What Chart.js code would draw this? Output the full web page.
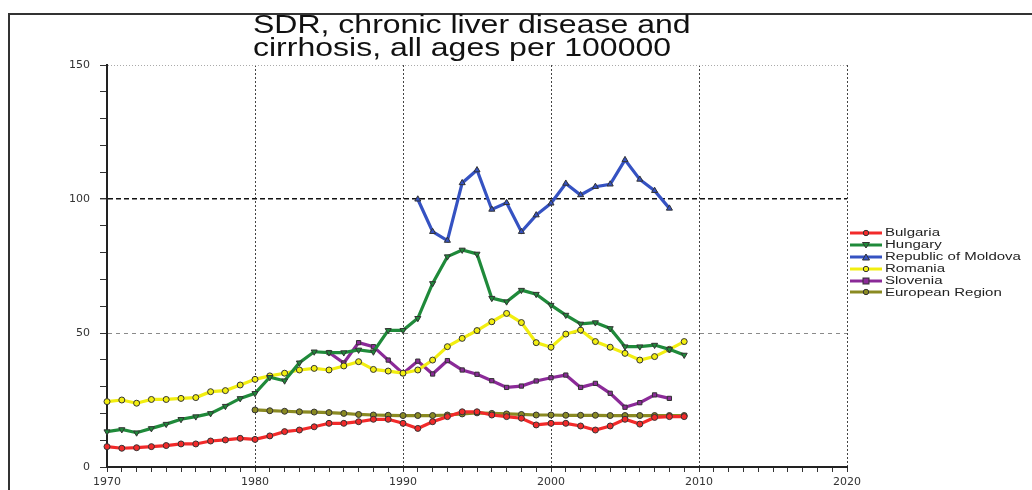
<!DOCTYPE html>
<html>
<head>
<meta charset="utf-8">
<script src="https://cdn.jsdelivr.net/npm/chart.js@4"></script>
<style>
  body { margin: 0; background: #fff; }
  #wrap { position: relative; width: 1032px; height: 490px; overflow: hidden; }
  #chart { position: absolute; left: 0; top: 0; }
  #frame { position: absolute; left: 8px; top: 13px; width: 1100px; height: 600px;
           border-left: 2px solid #333; border-top: 2px solid #333; }
  #title { position: absolute; left: 253px; top: 13px; font: 25px "Liberation Sans", Arial, sans-serif;
           line-height: 23px; color: #111; white-space: nowrap; transform: scaleX(1.28); transform-origin: 0 0; }
  #legend { position: absolute; left: 850px; top: 227px; font: 10px "Liberation Sans", Arial, sans-serif; color: #222; }
  .row { height: 11.9px; display: flex; align-items: center; white-space: nowrap; }
  .row svg { width: 32px; height: 10px; flex: none; }
  .row span { display: inline-block; margin-left: 3px; transform: scaleX(1.5); transform-origin: 0 50%; }
</style>
</head>
<body>
<div id="wrap">
  <div id="frame"></div>
  <canvas id="chart" width="1032" height="490"></canvas>
  <div id="title">SDR, chronic liver disease and<br>cirrhosis, all ages per 100000</div>
  <div id="legend"></div>
</div>
<script>
// years 1970..2009, null where a country has no data
const years = [1970, 1971, 1972, 1973, 1974, 1975, 1976, 1977, 1978, 1979,
               1980, 1981, 1982, 1983, 1984, 1985, 1986, 1987, 1988, 1989,
               1990, 1991, 1992, 1993, 1994, 1995, 1996, 1997, 1998, 1999,
               2000, 2001, 2002, 2003, 2004, 2005, 2006, 2007, 2008, 2009];

const bulgaria = [7.6, 7.0, 7.2, 7.6, 8.0, 8.6, 8.6, 9.7, 10.1, 10.7,
                  10.3, 11.6, 13.2, 13.8, 15.0, 16.3, 16.3, 16.9, 17.8, 17.8,
                  16.3, 14.4, 16.9, 18.8, 20.6, 20.6, 19.4, 18.8, 18.2, 15.7,
                  16.3, 16.3, 15.3, 13.8, 15.3, 17.8, 16.0, 18.5, 18.8, 18.8];

const hungary = [13.2, 14.0, 12.8, 14.4, 16.0, 17.8, 18.8, 20.0, 22.7, 25.6,
                 27.5, 33.5, 32.2, 38.9, 43.0, 42.7, 42.7, 43.7, 43.0, 51.0,
                 51.0, 55.5, 68.5, 78.5, 81.0, 79.5, 63.0, 61.7, 66.0, 64.5,
                 60.4, 56.7, 53.4, 53.9, 51.7, 44.9, 44.9, 45.5, 43.9, 41.8];

const moldova = [null, null, null, null, null, null, null, null, null, null,
                 null, null, null, null, null, null, null, null, null, null,
                 null, 99.9, 87.8, 84.5, 106.0, 110.8, 96.1, 98.6, 87.8, 94.0,
                 98.4, 105.8, 101.5, 104.6, 105.5, 114.6, 107.3, 103.1, 96.5, null];

const romania = [24.4, 25.0, 23.8, 25.2, 25.2, 25.6, 25.9, 28.1, 28.5, 30.6,
                 32.7, 34.0, 35.0, 36.2, 36.8, 36.2, 37.7, 39.3, 36.4, 35.8,
                 35.0, 36.2, 39.9, 44.9, 48.0, 50.9, 54.2, 57.3, 53.9, 46.4,
                 44.7, 49.6, 51.1, 46.8, 44.7, 42.4, 39.9, 41.2, 43.9, 46.8];

const slovenia = [null, null, null, null, null, null, null, null, null, null,
                  null, null, null, null, null, 42.7, 38.8, 46.4, 44.9, 39.9,
                  34.9, 39.5, 34.7, 39.7, 36.2, 34.6, 32.2, 29.7, 30.2, 32.1,
                  33.3, 34.3, 29.7, 31.2, 27.5, 22.3, 24.0, 26.9, 25.6, null];

const europe = [null, null, null, null, null, null, null, null, null, null,
                21.3, 21.0, 20.8, 20.6, 20.5, 20.3, 20.0, 19.6, 19.4, 19.3,
                19.2, 19.2, 19.2, 19.4, 19.8, 20.2, 20.0, 19.8, 19.6, 19.4,
                19.4, 19.3, 19.3, 19.3, 19.2, 19.2, 19.2, 19.2, 19.2, 19.2];

const seriesNames = ["Bulgaria", "Hungary", "Republic of Moldova", "Romania", "Slovenia", "European Region"];
const seriesValues = [bulgaria, hungary, moldova, romania, slovenia, europe];
const seriesColors = ["#f22a2a", "#1f8a3a", "#3552c2", "#f2ee10", "#8b2a98", "#8a8a22"];
const seriesMarkers = ["circle", "triangle", "triangle", "circle", "rect", "circle"];
const markerRotation = [0, 180, 0, 0, 0, 0];

const yTickLabels = [0, 50, 100, 150];
const xTickLabels = [1970, 1980, 1990, 2000, 2010, 2020];

const datasets = seriesNames.map((name, i) => ({
    label: name,
    data: years.map((yr, j) => ({ x: yr, y: seriesValues[i][j] })),
    borderColor: seriesColors[i],
    borderWidth: 3.2,
    pointStyle: seriesMarkers[i],
    rotation: markerRotation[i],
    pointRadius: seriesMarkers[i] === "triangle" ? 3.5 : 3,
    pointBackgroundColor: seriesColors[i],
    pointBorderColor: "#333",
    pointBorderWidth: 1,
    tension: 0,
    spanGaps: false,
    clip: false
}));

const tickFont = { family: "DejaVu Sans", size: 11 };
const clear = "rgba(0,0,0,0)";

new Chart(document.getElementById("chart").getContext("2d"), {
    type: "line",
    data: { datasets: datasets },
    options: {
        responsive: false,
        devicePixelRatio: 1,
        animation: false,
        layout: { padding: { left: 8, right: 185, top: 65, bottom: 1 } },
        plugins: { legend: { display: false }, title: { display: false }, tooltip: { enabled: false } },
        scales: {
            x: {
                type: "linear", min: 1970, max: 2020,
                afterFit: s => { s.height = 22; },
                ticks: {
                    stepSize: 1, autoSkip: false, maxRotation: 0, padding: 4,
                    color: "#333", font: tickFont,
                    callback: v => xTickLabels.includes(v) ? String(v) : ""
                },
                grid: {
                    color: c => (c.tick && c.tick.value % 10 === 0 && c.tick.value > 1970) ? "#444" : clear,
                    lineWidth: 1, tickLength: 5, tickColor: "#333"
                },
                border: { color: "#222", width: 2, dash: [2, 2] }
            },
            y: {
                min: 0, max: 150,
                afterFit: s => { s.width = 99; },
                ticks: {
                    stepSize: 10, padding: 10, color: "#333", font: tickFont,
                    callback: v => yTickLabels.includes(v) ? String(v) : ""
                },
                grid: {
                    color: c => {
                        const v = c.tick ? c.tick.value : -1;
                        if (v === 50) return "#8a8a8a";
                        if (v === 100) return "#111";
                        if (v === 150) return "#aaa";
                        return clear;
                    },
                    lineWidth: c => (c.tick && c.tick.value === 100) ? 1.4 : 1,
                    tickLength: 7, tickColor: "#333"
                },
                border: {
                    color: "#222", width: 2,
                    dash: c => {
                        const v = c.tick ? c.tick.value : -1;
                        if (v === 150) return [1, 2];
                        if (v === 100) return [5, 3];
                        return [4, 4];
                    }
                }
            }
        }
    }
});

// legend: line sample with the marker in the middle, built from the same arrays
function markerSvg(i) {
    const c = seriesColors[i];
    const m = seriesMarkers[i];
    if (m === "rect") return `<rect x="13" y="2" width="6" height="6" fill="${c}" stroke="#333" stroke-width="1"/>`;
    if (m === "triangle" && markerRotation[i] === 180) return `<polygon points="12.5,2.5 19.5,2.5 16,8" fill="${c}" stroke="#333" stroke-width="1"/>`;
    if (m === "triangle") return `<polygon points="12.5,8 19.5,8 16,2" fill="${c}" stroke="#333" stroke-width="1"/>`;
    return `<circle cx="16" cy="5" r="2.7" fill="${c}" stroke="#333" stroke-width="1"/>`;
}

let legend = document.getElementById("legend");
seriesNames.forEach((name, i) => {
    let row = `<div class="row"><svg viewBox="0 0 32 10"><line x1="0" y1="5" x2="32" y2="5" stroke="${seriesColors[i]}" stroke-width="3"/>${markerSvg(i)}</svg><span>${name}</span></div>`;
    legend.innerHTML += row;
});
</script>
</body>
</html>
